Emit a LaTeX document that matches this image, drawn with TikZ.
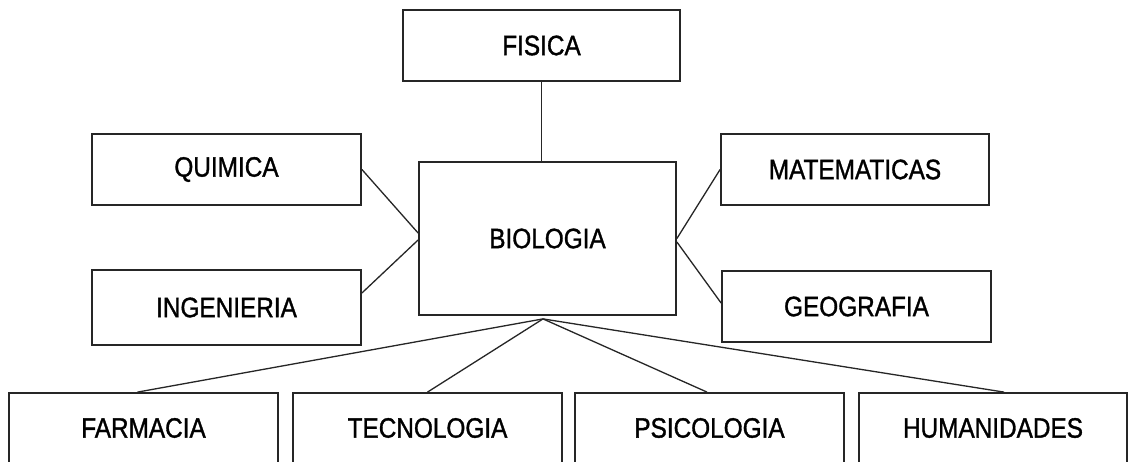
\documentclass[tikz,border=0pt]{standalone}
\usepackage{fontspec}
\setmainfont{Liberation Sans}
\newfontfamily\lblfont{Liberation Sans}[FakeBold=1.3]
\usetikzlibrary{calc}
\tikzset{
  box/.style={draw=black!85, line width=1.8pt, inner sep=0pt, fill=none,
    font=\lblfont\fontsize{28}{28}\selectfont},
  link/.style={draw=black!85, line width=1.3pt},
}
\newcommand{\lbl}[1]{\scalebox{0.87}[1]{#1}}
\begin{document}
\begin{tikzpicture}[x=1pt,y=-1pt]
\useasboundingbox (0,0) rectangle (1128,461);
\fill[white] (0,0) rectangle (1128,461);
\clip (0,0) rectangle (1128,461);
% boxes
\node[box, minimum width=277pt, minimum height=71pt] (fis) at (541.5,45.5) {\lbl{FISICA}};
\node[box, minimum width=269pt, minimum height=71pt] (quim) at (226.5,169.5) {\lbl{QUIMICA}};
\node[box, minimum width=269pt, minimum height=75pt] (ing) at (226.5,307.5) {\lbl{INGENIERIA}};
\node[box, minimum width=257pt, minimum height=153pt] (bio) at (547.5,238.5) {\lbl{BIOLOGIA}};
\node[box, minimum width=268pt, minimum height=71pt] (mat) at (855,169.5) {\lbl{MATEMATICAS}};
\node[box, minimum width=269pt, minimum height=71pt] (geo) at (856.5,306.5) {\lbl{GEOGRAFIA}};
\node[box, minimum width=269pt, minimum height=70pt] (farm) at (143.5,428) {\lbl{FARMACIA}};
\node[box, minimum width=269pt, minimum height=70pt] (tec) at (427.5,428) {\lbl{TECNOLOGIA}};
\node[box, minimum width=269pt, minimum height=70pt] (psi) at (709.5,428) {\lbl{PSICOLOGIA}};
\node[box, minimum width=268pt, minimum height=70pt] (hum) at (993,428) {\lbl{HUMANIDADES}};
% hub point under BIOLOGIA
\coordinate (hub) at ([xshift=-4.5pt,yshift=-3pt]bio.south);
% connectors
\draw[link] (fis.south) -- (fis.south |- bio.north);
\draw[link] (quim.east) -- ([yshift=5.5pt]bio.west);
\draw[link] ([yshift=14.5pt]ing.east) -- ([yshift=-1.5pt]bio.west);
\draw[link] (mat.west) -- (bio.east);
\draw[link] ([yshift=3.5pt]geo.west) -- ([yshift=-3.5pt]bio.east);
\draw[link] (hub) -- ([xshift=-6pt]farm.north);
\draw[link] (hub) -- (tec.north);
\draw[link] (hub) -- ([xshift=-2.5pt]psi.north);
\draw[link] (hub) -- ([xshift=11pt]hum.north);
\end{tikzpicture}
\end{document}
